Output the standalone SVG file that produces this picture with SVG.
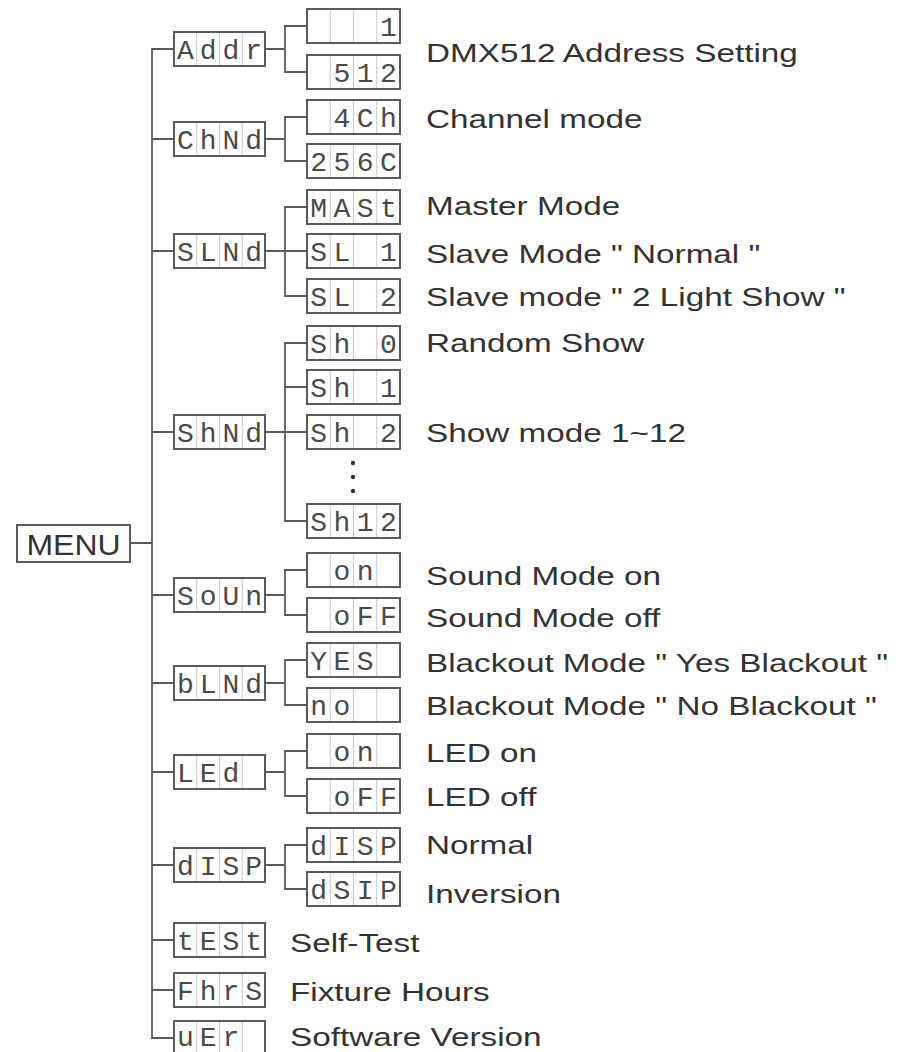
<svg xmlns="http://www.w3.org/2000/svg" width="899" height="1052" viewBox="0 0 899 1052">
<style>
.bx{fill:#fff;stroke:#5a5a5a;stroke-width:2}
.dv{stroke:#c8c8c8;stroke-width:1}
.sg{font-family:"Liberation Mono","DejaVu Sans Mono",monospace;font-size:28px;fill:#4a4a4a;text-anchor:middle}
.lb{font-family:"Liberation Sans",Arial,sans-serif;font-size:26px;fill:#333}
.cn{fill:none;stroke:#5a5a5a;stroke-width:1.8}
</style>
<defs>
<g id="c1"><line class="dv" x1="196.75" y1="1" x2="196.75" y2="33"/><line class="dv" x1="219.5" y1="1" x2="219.5" y2="33"/><line class="dv" x1="242.25" y1="1" x2="242.25" y2="33"/></g>
<g id="c2"><line class="dv" x1="330.25" y1="1" x2="330.25" y2="33"/><line class="dv" x1="353.5" y1="1" x2="353.5" y2="33"/><line class="dv" x1="376.75" y1="1" x2="376.75" y2="33"/></g>
</defs>
<g id="connectors">
<path class="cn" d="M174,49 H152 V1038 H174 M152,139 H174 M152,251 H174 M152,432 H174 M152,595 H174 M152,683 H174 M152,772 H174 M152,865 H174 M152,940 H174 M152,990 H174 M130,543 H152"/>
<path class="cn" d="M307,26 H285 V72 H307 M265,49 H285 M307,117 H285 V161 H307 M265,139 H285 M307,207 H285 V296 H307 M265,251 H307 M307,343 H285 V521 H307 M285,387 H307 M265,432 H307 M307,570 H285 V615 H307 M265,595 H285 M307,660 H285 V705 H307 M265,683 H285 M307,751 H285 V796 H307 M265,772 H285 M307,845 H285 V889 H307 M265,865 H285"/>
<circle cx="353" cy="463" r="2.2" fill="#333"/><circle cx="353" cy="477" r="2.2" fill="#333"/><circle cx="353" cy="491" r="2.2" fill="#333"/>
</g>
<g id="menu"><rect class="bx" x="17" y="525" width="113" height="37"/><text x="73.5" y="555" font-family="Liberation Sans,Arial,sans-serif" font-size="30" fill="#333" text-anchor="middle" textLength="94" lengthAdjust="spacingAndGlyphs">MENU</text></g>
<!-- level 1 -->
<g id="addr" transform="translate(0,32)"><rect class="bx" x="174" y="0" width="91" height="34"/><use href="#c1"/><text class="sg" x="185.4 208.1 230.9 253.6" y="27">Addr</text></g>
<g id="chnd" transform="translate(0,122)"><rect class="bx" x="174" y="0" width="91" height="34"/><use href="#c1"/><text class="sg" x="185.4 208.1 230.9 253.6" y="27">ChNd</text></g>
<g id="slnd" transform="translate(0,234)"><rect class="bx" x="174" y="0" width="91" height="34"/><use href="#c1"/><text class="sg" x="185.4 208.1 230.9 253.6" y="27">SLNd</text></g>
<g id="shnd" transform="translate(0,415)"><rect class="bx" x="174" y="0" width="91" height="34"/><use href="#c1"/><text class="sg" x="185.4 208.1 230.9 253.6" y="27">ShNd</text></g>
<g id="soun" transform="translate(0,578)"><rect class="bx" x="174" y="0" width="91" height="34"/><use href="#c1"/><text class="sg" x="185.4 208.1 230.9 253.6" y="27">SoUn</text></g>
<g id="blnd" transform="translate(0,666)"><rect class="bx" x="174" y="0" width="91" height="34"/><use href="#c1"/><text class="sg" x="185.4 208.1 230.9 253.6" y="27">bLNd</text></g>
<g id="led" transform="translate(0,755)"><rect class="bx" x="174" y="0" width="91" height="34"/><use href="#c1"/><text class="sg" x="185.4 208.1 230.9" y="27">LEd</text></g>
<g id="disp" transform="translate(0,848)"><rect class="bx" x="174" y="0" width="91" height="34"/><use href="#c1"/><text class="sg" x="185.4 208.1 230.9 253.6" y="27">dISP</text></g>
<g id="test" transform="translate(0,923)"><rect class="bx" x="174" y="0" width="91" height="34"/><use href="#c1"/><text class="sg" x="185.4 208.1 230.9 253.6" y="27">tESt</text></g>
<g id="fhrs" transform="translate(0,973)"><rect class="bx" x="174" y="0" width="91" height="34"/><use href="#c1"/><text class="sg" x="185.4 208.1 230.9 253.6" y="27">FhrS</text></g>
<g id="ver" transform="translate(0,1021)"><rect class="bx" x="174" y="0" width="91" height="40"/><use href="#c1"/><text class="sg" x="185.4 208.1 230.9" y="25" font-size="26">uEr</text></g>
<!-- level 2 -->
<g id="a1" transform="translate(0,9)"><rect class="bx" x="307" y="0" width="93" height="34"/><use href="#c2"/><text class="sg" x="388.4" y="27">1</text></g>
<g id="a512" transform="translate(0,55)"><rect class="bx" x="307" y="0" width="93" height="34"/><use href="#c2"/><text class="sg" x="341.9 365.1 388.4" y="27">512</text></g>
<g id="c4ch" transform="translate(0,100)"><rect class="bx" x="307" y="0" width="93" height="34"/><use href="#c2"/><text class="sg" x="341.9 365.1 388.4" y="27">4Ch</text></g>
<g id="c256" transform="translate(0,144)"><rect class="bx" x="307" y="0" width="93" height="34"/><use href="#c2"/><text class="sg" x="318.6 341.9 365.1 388.4" y="27">256C</text></g>
<g id="mast" transform="translate(0,190)"><rect class="bx" x="307" y="0" width="93" height="34"/><use href="#c2"/><text class="sg" x="318.6 341.9 365.1 388.4" y="27">MASt</text></g>
<g id="sl1" transform="translate(0,234)"><rect class="bx" x="307" y="0" width="93" height="34"/><use href="#c2"/><text class="sg" x="318.6 341.9 365.1 388.4" y="27">SL 1</text></g>
<g id="sl2" transform="translate(0,279)"><rect class="bx" x="307" y="0" width="93" height="34"/><use href="#c2"/><text class="sg" x="318.6 341.9 365.1 388.4" y="27">SL 2</text></g>
<g id="sh0" transform="translate(0,326)"><rect class="bx" x="307" y="0" width="93" height="34"/><use href="#c2"/><text class="sg" x="318.6 341.9 365.1 388.4" y="27">Sh 0</text></g>
<g id="sh1" transform="translate(0,370)"><rect class="bx" x="307" y="0" width="93" height="34"/><use href="#c2"/><text class="sg" x="318.6 341.9 365.1 388.4" y="27">Sh 1</text></g>
<g id="sh2" transform="translate(0,415)"><rect class="bx" x="307" y="0" width="93" height="34"/><use href="#c2"/><text class="sg" x="318.6 341.9 365.1 388.4" y="27">Sh 2</text></g>
<g id="sh12" transform="translate(0,504)"><rect class="bx" x="307" y="0" width="93" height="34"/><use href="#c2"/><text class="sg" x="318.6 341.9 365.1 388.4" y="27">Sh12</text></g>
<g id="son" transform="translate(0,553)"><rect class="bx" x="307" y="0" width="93" height="34"/><use href="#c2"/><text class="sg" x="341.9 365.1" y="27">on</text></g>
<g id="soff" transform="translate(0,598)"><rect class="bx" x="307" y="0" width="93" height="34"/><use href="#c2"/><text class="sg" x="341.9 365.1 388.4" y="27">oFF</text></g>
<g id="byes" transform="translate(0,643)"><rect class="bx" x="307" y="0" width="93" height="34"/><use href="#c2"/><text class="sg" x="318.6 341.9 365.1" y="27">YES</text></g>
<g id="bno" transform="translate(0,688)"><rect class="bx" x="307" y="0" width="93" height="34"/><use href="#c2"/><text class="sg" x="318.6 341.9" y="27">no</text></g>
<g id="lon" transform="translate(0,734)"><rect class="bx" x="307" y="0" width="93" height="34"/><use href="#c2"/><text class="sg" x="341.9 365.1" y="27">on</text></g>
<g id="loff" transform="translate(0,779)"><rect class="bx" x="307" y="0" width="93" height="34"/><use href="#c2"/><text class="sg" x="341.9 365.1 388.4" y="27">oFF</text></g>
<g id="dnorm" transform="translate(0,828)"><rect class="bx" x="307" y="0" width="93" height="34"/><use href="#c2"/><text class="sg" x="318.6 341.9 365.1 388.4" y="27">dISP</text></g>
<g id="dinv" transform="translate(0,872)"><rect class="bx" x="307" y="0" width="93" height="34"/><use href="#c2"/><text class="sg" x="318.6 341.9 365.1 388.4" y="27">dSIP</text></g>
<!-- labels -->
<g id="labels" transform="translate(426,0) scale(1.28,1)">
<text class="lb" x="0" y="62">DMX512 Address Setting</text>
<text class="lb" x="0" y="128">Channel mode</text>
<text class="lb" x="0" y="215">Master Mode</text>
<text class="lb" x="0" y="263">Slave Mode " Normal "</text>
<text class="lb" x="0" y="306">Slave mode " 2 Light Show "</text>
<text class="lb" x="0" y="352">Random Show</text>
<text class="lb" x="0" y="442">Show mode 1~12</text>
<text class="lb" x="0" y="585">Sound Mode on</text>
<text class="lb" x="0" y="627">Sound Mode off</text>
<text class="lb" x="0" y="672">Blackout Mode " Yes Blackout "</text>
<text class="lb" x="0" y="715">Blackout Mode " No Blackout "</text>
<text class="lb" x="0" y="762">LED on</text>
<text class="lb" x="0" y="806">LED off</text>
<text class="lb" x="0" y="854">Normal</text>
<text class="lb" x="0" y="903">Inversion</text>
</g>
<g id="labels2" transform="translate(290,0) scale(1.28,1)">
<text class="lb" x="0" y="952">Self-Test</text>
<text class="lb" x="0" y="1001">Fixture Hours</text>
<text class="lb" x="0" y="1046">Software Version</text>
</g>
</svg>
